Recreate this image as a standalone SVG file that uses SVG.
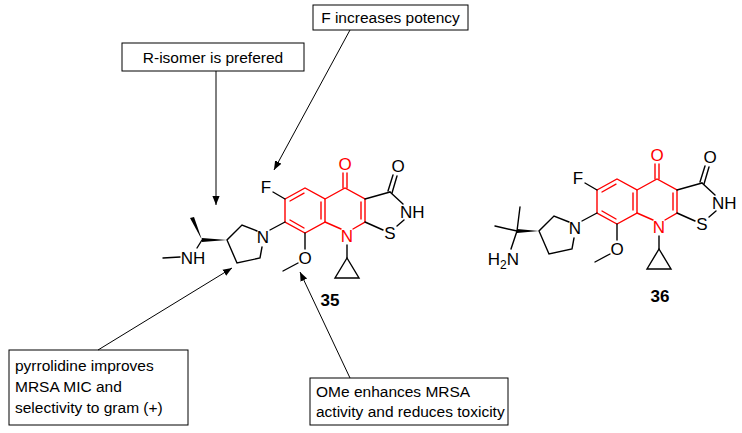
<svg xmlns="http://www.w3.org/2000/svg" width="742" height="433" viewBox="0 0 742 433">
<style>
.b{stroke:#000;stroke-width:1.4;fill:none;stroke-linecap:round}
.r{stroke:#ff0000;stroke-width:1.4;fill:none;stroke-linecap:round}
.t{font-family:"Liberation Sans",Arial,sans-serif;font-size:17px;fill:#000}
.tr{font-family:"Liberation Sans",Arial,sans-serif;font-size:17px;fill:#ff0000}
.lb{font-family:"Liberation Sans",Arial,sans-serif;font-size:17px;font-weight:bold;fill:#000}
.bx{fill:#fff;stroke:#000;stroke-width:1}
.bt{font-family:"Liberation Sans",Arial,sans-serif;font-size:15.5px;fill:#000}
.c{stroke:#000;stroke-width:1;fill:none;marker-end:url(#ah)}
</style>
<defs>
<marker id="ah" viewBox="0 0 10 10" refX="10" refY="5" markerWidth="9" markerHeight="9" orient="auto" markerUnits="userSpaceOnUse">
<path d="M0,1 L10,5 L0,9 z" fill="#000"/>
</marker>
<g id="core">
<polyline class="r" points="285,199 305,188 325,199 325,222 305,233 285,222 285,199"/>
<line class="r" x1="290" y1="201" x2="304" y2="193.2"/>
<line class="r" x1="321" y1="202" x2="321" y2="219"/>
<line class="r" x1="290" y1="220" x2="304" y2="228"/>
<polyline class="r" points="325,199 345,188 365,199 365,222 353,229"/>
<line class="r" x1="341" y1="229" x2="325" y2="222"/>
<line class="r" x1="361" y1="202" x2="361" y2="219"/>
<line class="r" x1="343" y1="188" x2="343" y2="173"/>
<line class="r" x1="347" y1="188" x2="347" y2="173"/>
<text class="tr" x="345" y="170" text-anchor="middle">O</text>
<text class="tr" x="347" y="242" text-anchor="middle">N</text>
<line class="b" x1="365" y1="199" x2="390" y2="192"/>
<line class="b" x1="388" y1="191" x2="393" y2="175"/>
<line class="b" x1="392" y1="193" x2="397" y2="176"/>
<text class="t" x="398" y="172" text-anchor="middle">O</text>
<line class="b" x1="390" y1="192" x2="403" y2="204"/>
<text class="t" x="400" y="218">NH</text>
<line class="b" x1="404" y1="220" x2="397" y2="226"/>
<text class="t" x="390" y="239" text-anchor="middle">S</text>
<line class="b" x1="383" y1="230" x2="365" y2="222"/>
<line class="b" x1="347" y1="245" x2="347" y2="258"/>
<polygon class="b" points="347,258 335,278 359,278"/>
<line class="b" x1="305" y1="233" x2="305" y2="249"/>
<text class="t" x="305" y="264" text-anchor="middle">O</text>
<line class="b" x1="298" y1="263" x2="283" y2="271"/>
<line class="b" x1="285" y1="199" x2="273" y2="192"/>
<text class="t" x="266" y="193" text-anchor="middle">F</text>
<line class="b" x1="285" y1="222" x2="270" y2="230"/>
<text class="t" x="263" y="243" text-anchor="middle">N</text>
<polyline class="b" points="257,231 242,225 227,240 237,263 260,258 262,247"/>
</g>
</defs>
<g id="mol35">
<use href="#core"/>
<polygon points="227,240 202,238 202,242" fill="#000"/>
<polygon points="202,240 190,218 194,217" fill="#000"/>
<line class="b" x1="202" y1="240" x2="197" y2="248"/>
<text class="t" x="193" y="264" text-anchor="middle">NH</text>
<line class="b" x1="180" y1="257" x2="163" y2="258"/>
<text class="lb" x="330" y="306" text-anchor="middle">35</text>
</g>
<g id="mol36">
<use href="#core" transform="translate(312,-9)"/>
<polygon points="539,231 517,229 517,233" fill="#000"/>
<line class="b" x1="517" y1="231" x2="520" y2="207"/>
<line class="b" x1="517" y1="231" x2="495" y2="226"/>
<line class="b" x1="517" y1="231" x2="511" y2="249"/>
<text class="t" x="519" y="265" text-anchor="end">H<tspan font-size="12" dy="4">2</tspan><tspan dy="-4">N</tspan></text>
<text class="lb" x="660" y="302" text-anchor="middle">36</text>
</g>
<g id="box-f">
<rect class="bx" x="313" y="5" width="155" height="25"/>
<text class="bt" x="390.5" y="23" text-anchor="middle">F increases potency</text>
</g>
<g id="box-r">
<rect class="bx" x="122" y="43" width="182" height="28"/>
<text class="bt" x="213" y="63" text-anchor="middle">R-isomer is prefered</text>
</g>
<g id="box-pyr">
<rect class="bx" x="9" y="350" width="179" height="75"/>
<text class="bt" x="15" y="371">pyrrolidine improves</text>
<text class="bt" x="15" y="392">MRSA MIC and</text>
<text class="bt" x="15" y="413">selectivity to gram (+)</text>
</g>
<g id="box-ome">
<rect class="bx" x="310" y="378" width="198" height="47"/>
<text class="bt" x="316" y="397">OMe enhances MRSA</text>
<text class="bt" x="316" y="417">activity and reduces toxicity</text>
</g>
<g id="connectors">
<line class="c" x1="216" y1="71" x2="216" y2="205"/>
<line class="c" x1="350" y1="30" x2="274" y2="170"/>
<line class="c" x1="98" y1="350" x2="232" y2="268"/>
<line class="c" x1="350" y1="378" x2="300" y2="272"/>
</g>
</svg>
